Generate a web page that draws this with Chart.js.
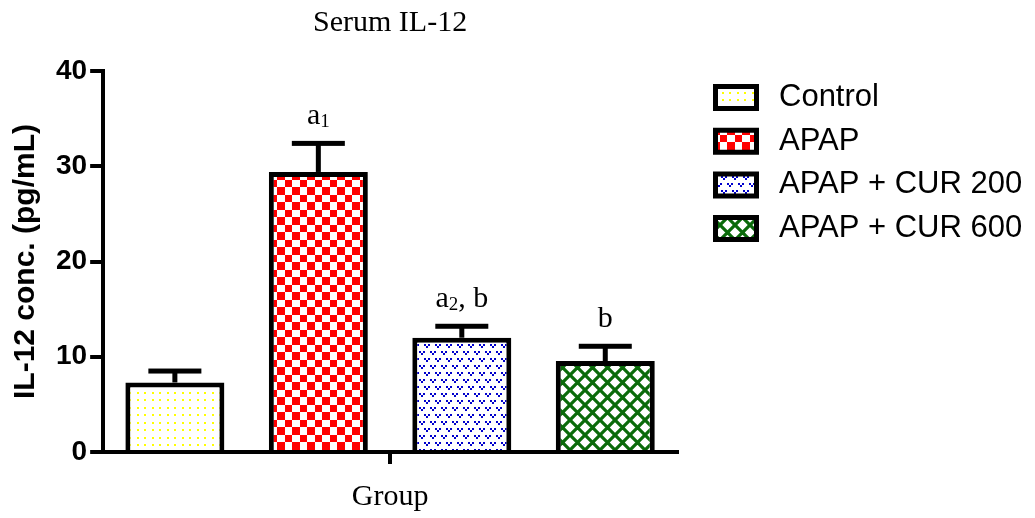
<!DOCTYPE html>
<html>
<head>
<meta charset="utf-8">
<title>Serum IL-12</title>
<script src="https://cdn.jsdelivr.net/npm/chart.js@4.4.1/dist/chart.umd.min.js"></script>
<style>
  html, body { margin: 0; padding: 0; background: #fff; }
  #wrap { position: relative; width: 1035px; height: 518px; }
</style>
</head>
<body>
<div id="wrap"><canvas id="c"></canvas></div>
<script>
// ---- data ----
const categories = ['Group'];
const groups = ['Control', 'APAP', 'APAP + CUR 200', 'APAP + CUR 600'];
const means = [7.3, 29.4, 12.0, 9.55];      // IL-12, pg/mL
const sem = [1.2, 3.0, 1.2, 1.55];          // error bar (upper)
const sigLetters = ['', 'a_1', 'a_2, b', 'b'];
const yMin = 0, yMax = 40, yStep = 10;

// ---- fill patterns ----
const canvas = document.getElementById('c');
const mainCtx = canvas.getContext('2d');

function makePattern(w, h, draw) {
  const tile = document.createElement('canvas');
  tile.width = w; tile.height = h;
  const g = tile.getContext('2d');
  g.fillStyle = '#ffffff';
  g.fillRect(0, 0, w, h);
  draw(g, w, h);
  return mainCtx.createPattern(tile, 'repeat');
}

const dotsYellow = makePattern(15, 15, g => {
  g.fillStyle = '#ffff00';
  [[0, 0], [7, 0], [0, 7], [7, 7]].forEach(([x, y]) => g.fillRect(x + 2, y + 2, 2, 2));
});

const checkerRed = makePattern(15, 15, g => {
  g.fillStyle = '#ff0000';
  g.fillRect(0, 0, 7, 7);
  g.fillRect(7, 7, 8, 8);
});

const veeBlue = makePattern(11, 14, g => {
  g.fillStyle = '#0000cc';
  const vee = (x, y) => {
    g.fillRect(x, y, 2, 2);
    g.fillRect(x + 4, y, 2, 2);
    g.fillRect(x + 2, y + 2, 2, 2);
  };
  vee(1, 1);
  vee(6, 8);
  g.fillRect(0, 8, 1, 2);
});

const hatchGreen = makePattern(15, 15, (g, w, h) => {
  g.strokeStyle = '#0a6a0a';
  g.lineWidth = 3.2;
  for (let k = -1; k <= 1; k++) {
    g.beginPath();
    g.moveTo(-2 + k * w, -2); g.lineTo(w + 2 + k * w, h + 2);
    g.moveTo(-2 + k * w, h + 2); g.lineTo(w + 2 + k * w, -2);
    g.stroke();
  }
});

const fills = [dotsYellow, checkerRed, veeBlue, hatchGreen];

// ---- plugins ----
const serif = '"Liberation Serif", "Times New Roman", serif';
const sans = '"Liberation Sans", Arial, sans-serif';

// upper error bars and significance letters above each bar
const errorBars = {
  id: 'errorBars',
  afterDatasetsDraw(chart) {
    const ctx = chart.ctx;
    const yScale = chart.scales.y;
    ctx.save();
    ctx.fillStyle = '#000';
    chart.data.datasets.forEach((ds, i) => {
      const el = chart.getDatasetMeta(i).data[0];
      if (!el) return;
      const x = el.x;
      const yBar = yScale.getPixelForValue(means[i]);
      const yErr = yScale.getPixelForValue(means[i] + sem[i]);
      ctx.fillRect(x - 2.5, yErr, 5, yBar - yErr);
      ctx.fillRect(x - 26.5, yErr - 2.5, 53, 5);

      const txt = sigLetters[i];
      if (!txt) return;
      // split "a_1" style strings into normal / subscript runs
      const runs = [];
      const re = /_(\d)/g;
      let last = 0, m;
      while ((m = re.exec(txt)) !== null) {
        if (m.index > last) runs.push({ t: txt.slice(last, m.index), sub: false });
        runs.push({ t: m[1], sub: true });
        last = re.lastIndex;
      }
      if (last < txt.length) runs.push({ t: txt.slice(last), sub: false });
      const fontMain = '30px ' + serif, fontSub = '19px ' + serif;
      let total = 0;
      runs.forEach(r => { ctx.font = r.sub ? fontSub : fontMain; r.w = ctx.measureText(r.t).width; total += r.w; });
      let cx = x - total / 2;
      const base = yErr - 19;
      ctx.textBaseline = 'alphabetic';
      ctx.textAlign = 'left';
      runs.forEach(r => {
        ctx.font = r.sub ? fontSub : fontMain;
        ctx.fillText(r.t, cx, r.sub ? base + 3 : base);
        cx += r.w;
      });
    });
    ctx.restore();
  }
};

// legend column to the right of the plot
const sideLegend = {
  id: 'sideLegend',
  afterDraw(chart, args, opts) {
    const ctx = chart.ctx;
    ctx.save();
    chart.data.datasets.forEach((ds, i) => {
      const cy = opts.top + i * opts.step;
      ctx.fillStyle = ds.backgroundColor;
      ctx.strokeStyle = ds.borderColor;
      ctx.lineWidth = ds.borderWidth;
      ctx.beginPath();
      ctx.rect(opts.left, cy - opts.boxH / 2, opts.boxW, opts.boxH);
      ctx.fill();
      ctx.stroke();
      ctx.fillStyle = '#000';
      ctx.font = '31px ' + sans;
      ctx.textBaseline = 'middle';
      ctx.textAlign = 'left';
      ctx.fillText(ds.label, opts.textX, cy);
    });
    ctx.restore();
  }
};

// ---- chart ----
const datasets = groups.map((g, i) => ({
  label: g,
  data: [means[i]],
  backgroundColor: fills[i],
  borderColor: '#000000',
  borderWidth: 5,
  categoryPercentage: 1.0,
  barPercentage: 0.69
}));

new Chart(canvas, {
  type: 'bar',
  data: { labels: categories, datasets },
  plugins: [errorBars, sideLegend],
  options: {
    responsive: true,
    maintainAspectRatio: false,
    animation: false,
    devicePixelRatio: 1,
    layout: { padding: { left: 0, top: 0, right: 358, bottom: 0 } },
    plugins: {
      legend: { display: false },
      tooltip: { enabled: false },
      title: {
        display: true,
        text: 'Serum IL-12',
        fullSize: false,
        color: '#000',
        font: { family: serif, size: 30, weight: 'normal' },
        padding: { top: 5, bottom: 30 }
      },
      sideLegend: { left: 715.5, top: 97.5, step: 43.7, boxW: 41, boxH: 22, textX: 779 }
    },
    scales: {
      x: {
        type: 'category',
        offset: true,
        afterFit(scale) { scale.height = 66; },
        grid: {
          offset: false,
          drawOnChartArea: false,
          drawTicks: true,
          tickLength: 12,
          lineWidth: 4,
          color: '#000'
        },
        border: { display: true, color: '#000', width: 4 },
        ticks: {
          color: '#000',
          padding: 15,
          font: { family: serif, size: 30, weight: 'normal' }
        }
      },
      y: {
        min: yMin,
        max: yMax,
        ticks: {
          stepSize: yStep,
          color: '#000',
          padding: 3,
          font: { family: sans, size: 28, weight: 'bold' }
        },
        grid: {
          drawOnChartArea: false,
          drawTicks: true,
          tickLength: 13,
          lineWidth: 4,
          color: '#000'
        },
        border: { display: true, color: '#000', width: 4 },
        title: {
          display: true,
          text: 'IL-12 conc. (pg/mL)',
          color: '#000',
          font: { family: sans, size: 30, weight: 'bold' },
          padding: { top: 8, bottom: 9 }
        }
      }
    }
  }
});
</script>
</body>
</html>
